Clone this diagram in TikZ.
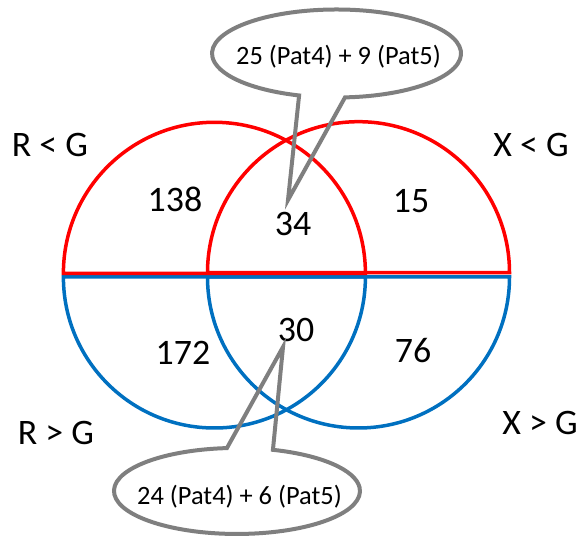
\documentclass[tikz,border=0pt]{standalone}
\usepackage{fontspec}
\setmainfont{Carlito}
\definecolor{vred}{RGB}{255,0,0}
\definecolor{vblue}{RGB}{0,112,192}
\definecolor{cgrey}{RGB}{127,127,127}
\begin{document}
\begin{tikzpicture}[x=1bp,y=1bp,
  redhalf/.style={draw=vred,line width=3.5bp},
  bluehalf/.style={draw=vblue,line width=3.5bp},
  callout/.style={draw=cgrey,line width=4bp,line join=miter},
  big/.style={anchor=base,inner sep=0pt,font=\fontsize{36}{40}\selectfont},
  small/.style={anchor=base,inner sep=0pt,font=\fontsize{26.5}{30}\selectfont}]
\useasboundingbox (0,0) rectangle (582,539);
% lower (blue) halves
\draw[bluehalf] (63.4,262) arc[start angle=180,end angle=360,radius=151bp] -- cycle;
\draw[bluehalf] (207.5,262) arc[start angle=180,end angle=360,radius=151bp] -- cycle;
% upper (red) halves
\draw[redhalf] (63.4,265.7) arc[start angle=180,end angle=0,radius=151bp] -- cycle;
\draw[redhalf] (207.5,266.3) arc[start angle=180,end angle=0,radius=151bp] -- cycle;
% region numbers
\node[big] (n138) at (175,327) {138};
\node[big] (n34) at (293,303) {34};
\node[big] (n15) at (411,326) {15};
\node[big] (n172) at (183,174) {172};
\node[big] (n30) at (296,197) {30};
\node[big] (n76) at (413,176) {76};
% set labels
\node[big] (rl) at (50,382) {R < G};
\node[big] (xl) at (531,382) {X < G};
\node[big] (rg) at (56,94) {R > G};
\node[big] (xg) at (540,104) {X > G};
% top callout
\coordinate (ttip) at (288,339);
\draw[callout] (345.0,441.6) arc[start angle=273.9,end angle=612.5,x radius=124.5bp,y radius=44bp] -- (ttip) -- cycle;
\node[small] (ct) at (338.5,474) {25 (Pat4) + 9 (Pat5)};
% bottom callout
\coordinate (btip) at (283,192);
\draw[callout] (226.9,90.9) arc[start angle=94.7,end angle=433,x radius=123bp,y radius=43bp] -- (btip) -- cycle;
\node[small] (cb) at (239.5,34) {24 (Pat4) + 6 (Pat5)};
\end{tikzpicture}
\end{document}
